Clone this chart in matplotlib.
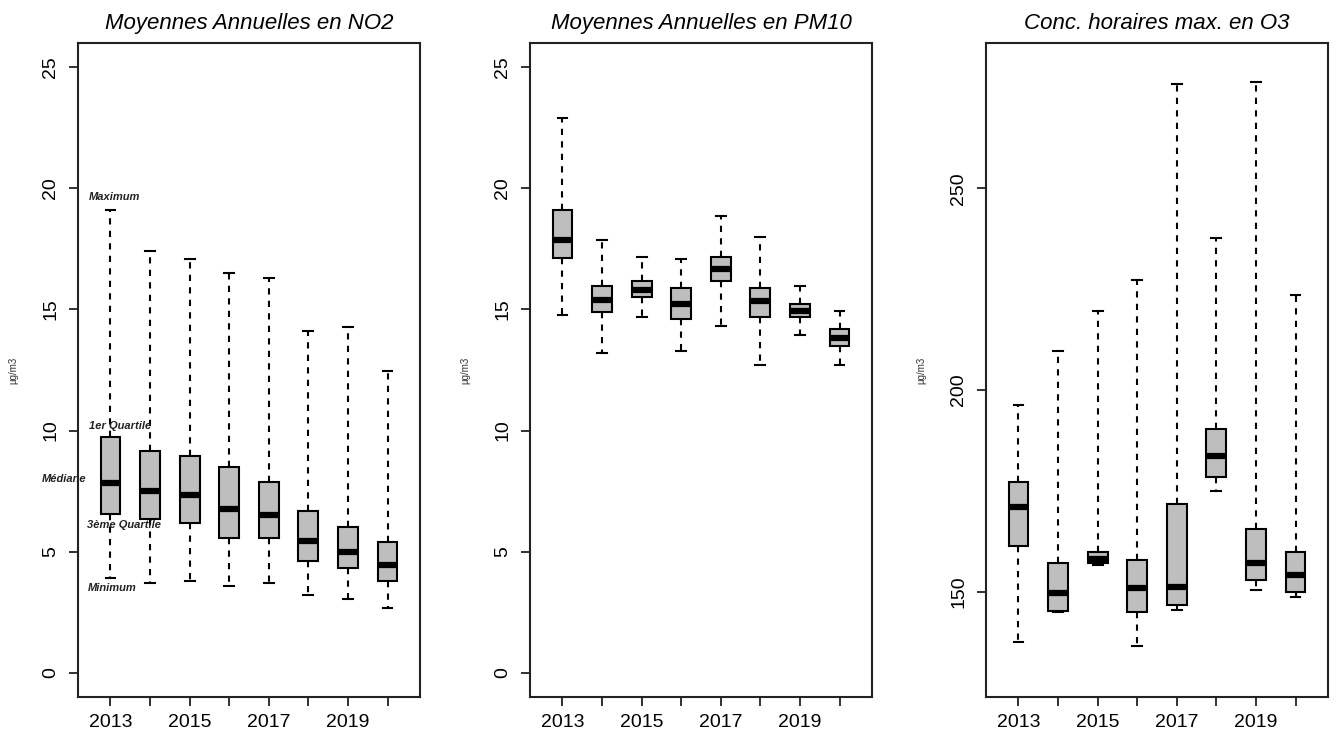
import matplotlib
matplotlib.use("agg")
import matplotlib.pyplot as plt

plt.rcParams["font.family"] = ["Liberation Sans", "DejaVu Sans"]

years = ["2013", "2014", "2015", "2016", "2017", "2018", "2019", "2020"]
tick_labels = ["2013", "", "2015", "", "2017", "", "2019", ""]

# min, Q1, median, Q3, max per year
no2_min = [3.93, 3.71, 3.80, 3.58, 3.71, 3.20, 3.06, 2.69]
no2_q1 = [6.55, 6.35, 6.17, 5.56, 5.56, 4.61, 4.31, 3.80]
no2_med = [7.84, 7.49, 7.33, 6.76, 6.50, 5.46, 4.97, 4.47]
no2_q3 = [9.74, 9.14, 8.94, 8.49, 7.88, 6.69, 6.01, 5.38]
no2_max = [19.10, 17.42, 17.10, 16.50, 16.30, 14.13, 14.28, 12.44]

pm10_min = [14.76, 13.20, 14.70, 13.27, 14.32, 12.69, 13.95, 12.69]
pm10_q1 = [17.13, 14.90, 15.51, 14.61, 16.18, 14.70, 14.68, 13.50]
pm10_med = [17.85, 15.37, 15.82, 15.21, 16.65, 15.36, 14.94, 13.82]
pm10_q3 = [19.09, 15.96, 16.19, 15.89, 17.15, 15.89, 15.22, 14.18]
pm10_max = [22.90, 17.88, 17.15, 17.08, 18.85, 17.98, 15.96, 14.92]

o3_min = [137.6, 145.1, 156.7, 136.6, 145.5, 175.1, 150.4, 148.7]
o3_q1 = [161.5, 145.4, 157.1, 145.0, 146.7, 178.5, 153.1, 150.0]
o3_med = [171.0, 149.7, 158.2, 151.0, 151.3, 183.8, 157.1, 154.1]
o3_q3 = [177.3, 157.1, 159.9, 157.9, 171.9, 190.5, 165.6, 159.9]
o3_max = [196.4, 209.7, 219.7, 227.2, 275.9, 237.6, 276.4, 223.6]

legend_labels = ["Maximum", "1er Quartile", "Médiane", "3ème Quartile", "Minimum"]
legend_x = [1.09, 1.24, -0.17, 1.34, 1.04]
legend_y = [19.64, 10.17, 8.02, 6.10, 3.48]

panels = [
    ("Moyennes Annuelles en NO2", no2_min, no2_q1, no2_med, no2_q3, no2_max,
     (-1, 26), [0, 5, 10, 15, 20, 25]),
    ("Moyennes Annuelles en PM10", pm10_min, pm10_q1, pm10_med, pm10_q3, pm10_max,
     (-1, 26), [0, 5, 10, 15, 20, 25]),
    ("Conc. horaires max. en O3", o3_min, o3_q1, o3_med, o3_q3, o3_max,
     (124, 286), [150, 200, 250]),
]
lefts = [78 / 1336, 530 / 1336, 986 / 1336]

fig = plt.figure(figsize=(13.36, 7.33), dpi=100)

for left, (title, lo, q1, med, q3, hi, ylim, yticks) in zip(lefts, panels):
    ax = fig.add_axes([left, 1 - 697 / 733, 342 / 1336, 654 / 733])
    stats = []
    for i in range(len(years)):
        stats.append({"whislo": lo[i], "q1": q1[i], "med": med[i],
                      "q3": q3[i], "whishi": hi[i], "label": years[i]})
    positions = list(range(1, len(years) + 1))
    ax.bxp(stats, positions=positions, widths=0.5, patch_artist=True,
           showfliers=False,
           boxprops=dict(facecolor="#bebebe", edgecolor="black", linewidth=1.5),
           medianprops=dict(color="black", linewidth=4.5, solid_capstyle="butt"),
           whiskerprops=dict(color="black", linewidth=1.5, linestyle=(0, (3, 3))),
           capprops=dict(color="black", linewidth=1.5))
    ax.set_xlim(0.18, 8.82)
    ax.set_ylim(*ylim)
    ax.set_xticks(positions)
    ax.set_xticklabels(tick_labels, fontsize=14)
    ax.set_yticks(yticks)
    ax.set_yticklabels([str(t) for t in yticks], fontsize=14, rotation=90, va="center")
    ax.tick_params(axis="both", length=6.5, width=1.3, color="#222222", pad=6)
    ax.tick_params(axis="y", pad=7)
    for s in ax.spines.values():
        s.set_linewidth(1.5)
        s.set_color("#222222")
    ax.set_title(title, fontsize=16, style="italic", pad=10)
    ax.set_ylabel("µg/m3", fontsize=7, color="#333333")
    ax.yaxis.set_label_coords(-0.175, 0.5)

    if title.endswith("NO2"):
        for txt, x, y in zip(legend_labels, legend_x, legend_y):
            ax.text(x, y, txt, fontsize=8, style="italic", fontweight="bold",
                    ha="center", va="center", clip_on=False, color="#222222")

fig.savefig("out.png", dpi=100)
